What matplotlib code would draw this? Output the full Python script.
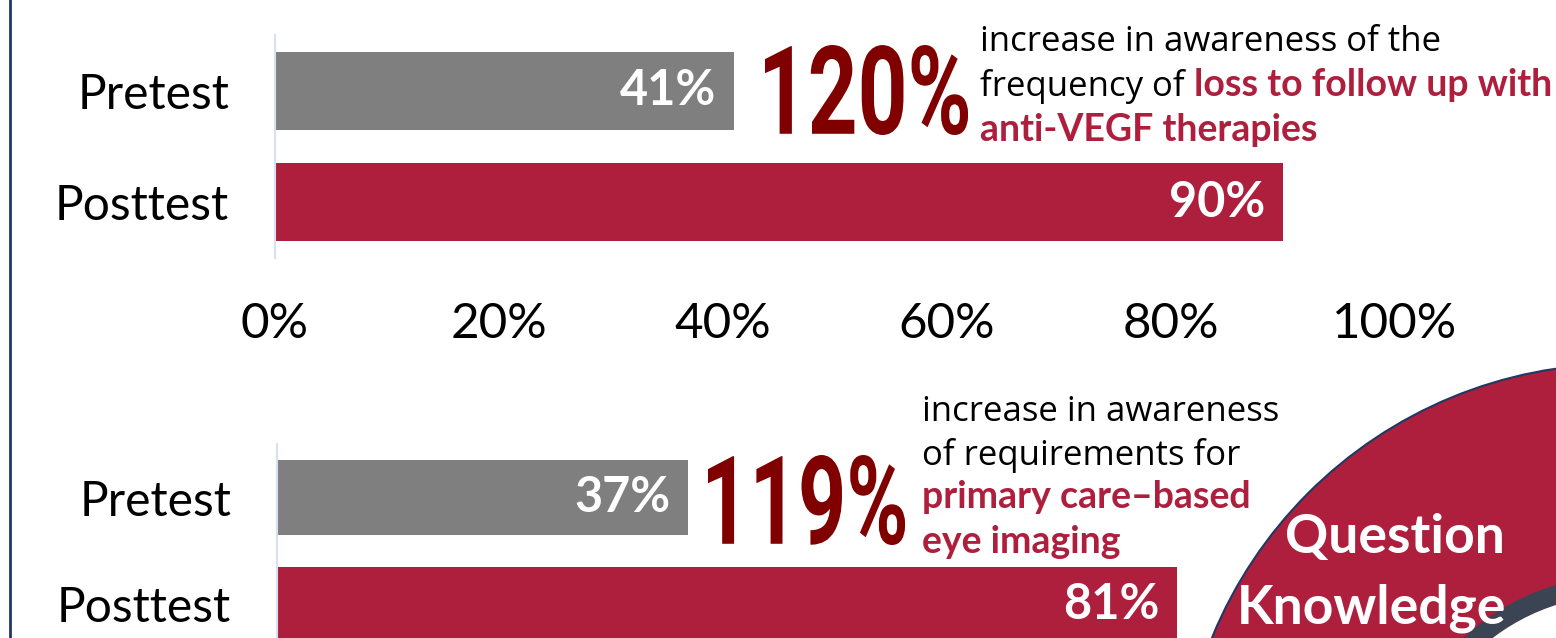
import matplotlib.pyplot as plt
from matplotlib.patches import Circle, PathPatch
from matplotlib.textpath import TextPath
from matplotlib.font_manager import FontProperties
from matplotlib.transforms import Affine2D

W, H = 1556, 638

categories = ['Pretest', 'Posttest']
loss_followup = [41, 90]
eye_imaging = [37, 81]
pct_ticks = [0, 20, 40, 60, 80, 100]

GRAY = '#7f7f7f'
RED = '#ae1f3d'
DARK_RED = '#800000'
NAVY = '#1f3864'
SLATE = '#3b4452'
SPINE = '#d6e1f2'

plt.rcParams['font.family'] = ['Lato', 'DejaVu Sans']

fig = plt.figure(figsize=(W / 100, H / 100), dpi=100)

# full-figure axes in pixel units for the decorations
ov = fig.add_axes([0, 0, 1, 1], zorder=0)
ov.set_xlim(0, W)
ov.set_ylim(H, 0)
ov.axis('off')


def px_axes(left, top, width, height):
    return fig.add_axes([left / W, (H - top - height) / H, width / W, height / H], zorder=1)


def bar_panel(ax, values, show_xticks, pad_units):
    ax.barh(categories, values, height=0.7, color=[GRAY, RED])
    ax.set_xlim(0, 100)
    ax.set_ylim(1.5, -0.5)
    ax.patch.set_alpha(0)
    for side in ['top', 'right', 'bottom']:
        ax.spines[side].set_visible(False)
    ax.spines['left'].set_color(SPINE)
    ax.spines['left'].set_linewidth(1.5)
    ax.tick_params(axis='y', length=0, labelsize=34.5, pad=33)
    if show_xticks:
        ax.set_xticks(pct_ticks, [f'{t}%' for t in pct_ticks])
        ax.tick_params(axis='x', length=0, labelsize=35.5, pad=32)
    else:
        ax.set_xticks([])
    for i, v in enumerate(values):
        ax.text(v - pad_units, i, f'{v}%', ha='right', va='center',
                color='white', fontsize=35, fontweight='bold')


top_ax = px_axes(275, 35, 1120, 223)
bar_panel(top_ax, loss_followup, True, 1.6)

bot_ax = px_axes(277, 444, 1111, 214)
bar_panel(bot_ax, eye_imaging, False, 1.6)


def big_number(text, x0, y0, width, height):
    # condensed headline figure: glyph outlines squeezed into a box
    tp = TextPath((0, 0), text, size=100, prop=FontProperties(family='Roboto', weight='bold'))
    ext = tp.get_extents()
    tr = (Affine2D().translate(-ext.x0, -ext.y0)
          .scale(width / ext.width, -height / ext.height)
          .translate(x0, y0))
    ov.add_patch(PathPatch(tr.transform_path(tp), fc=DARK_RED, ec='none'))


def rich_line(x, y, parts):
    renderer = fig.canvas.get_renderer()
    for s, color, bold in parts:
        if bold:
            t = ov.text(x, y, s, color=color, fontsize=27, va='baseline', ha='left',
                        family=['Lato'], fontweight='bold')
        else:
            t = ov.text(x, y, s, color=color, fontsize=25, va='baseline', ha='left',
                        family=['Open Sans'])
        x += t.get_window_extent(renderer).width


gain_top = round((loss_followup[1] / loss_followup[0] - 1) * 100)
gain_bot = round((eye_imaging[1] / eye_imaging[0] - 1) * 100)

big_number(f'{gain_top}%', 765, 135, 203, 90)
big_number(f'{gain_bot}%', 708, 545, 197, 90)

rich_line(980, 51, [('increase in awareness of the', 'black', False)])
rich_line(980, 96, [('frequency of ', 'black', False), ('loss to follow up with', RED, True)])
rich_line(980, 141, [('anti-VEGF therapies', RED, True)])

rich_line(922, 421, [('increase in awareness', 'black', False)])
rich_line(922, 465, [('of requirements for', 'black', False)])
rich_line(922, 508, [('primary care\u2013based', RED, True)])
rich_line(922, 553, [('eye imaging', RED, True)])

# badge in the lower right corner
ov.add_patch(Circle((1620, 805), 441, fc=RED, ec=NAVY, lw=1.5))
ov.add_patch(Circle((1620, 805), 219.5, fill=False, ec=SLATE, lw=13.7))
ov.add_patch(Circle((1620, 805), 210, fc='white', ec='none'))
ov.text(1395, 537, 'Question', color='white', fontsize=38.5, fontweight='bold',
        ha='center', va='center')
ov.text(1371, 608, 'Knowledge', color='white', fontsize=38.5, fontweight='bold',
        ha='center', va='center')

ov.plot([10, 10], [0, H], color=NAVY, lw=2)

fig.savefig('out.png', dpi=100)
